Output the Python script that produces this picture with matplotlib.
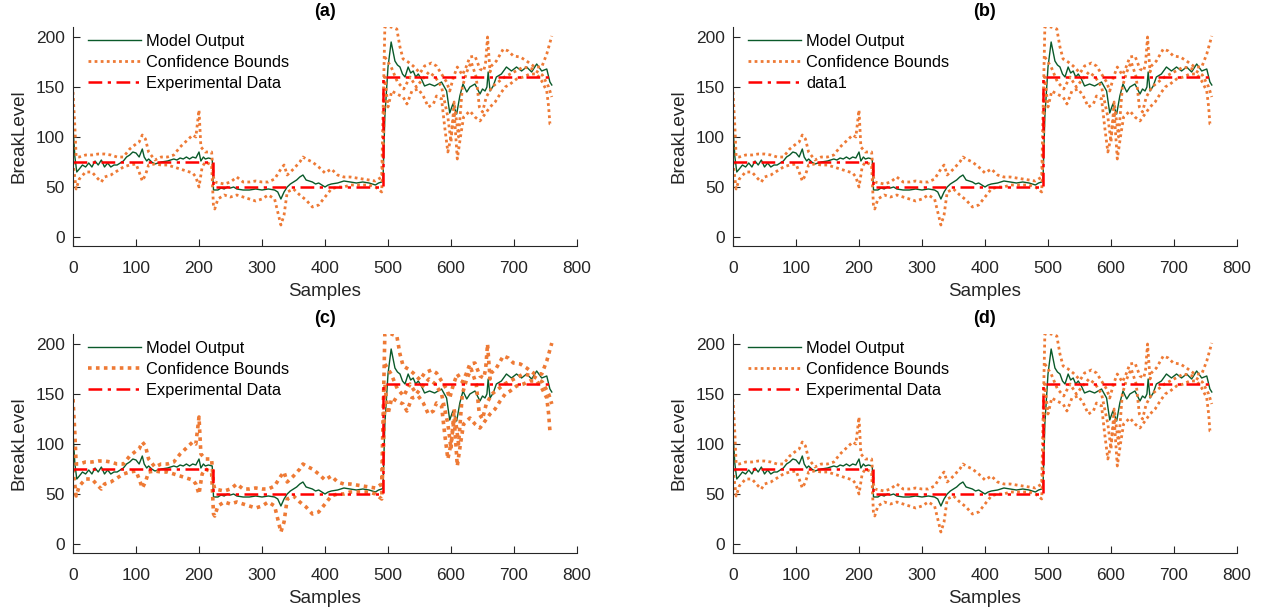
import matplotlib.pyplot as plt

plt.rcParams['font.family'] = ['Liberation Sans', 'DejaVu Sans']

# model output (green)
mod_x = [0, 3, 6, 10, 15, 20, 25, 30, 35, 40, 45, 50, 55, 60, 65, 70, 75, 80, 85, 90, 95, 100,
         105, 110, 113, 117, 120, 125, 130, 140, 150, 160, 165, 170, 175, 180, 185, 190, 195,
         200, 203, 207, 210, 215, 221, 223, 230, 235, 240, 245, 250, 255, 260, 270, 280, 290,
         300, 310, 320, 325, 330, 335, 340, 345, 350, 355, 360, 365, 370, 375, 380, 385, 390,
         395, 400, 405, 410, 420, 430, 440, 450, 460, 470, 480, 485, 490, 492, 495, 500, 505,
         511, 515, 519, 523, 527, 532, 536, 540, 544, 548, 553, 558, 566, 574, 585, 593, 598,
         603, 609, 614, 619, 625, 630, 638, 642, 646, 650, 654, 657, 659, 662, 667, 672, 680,
         688, 696, 704, 712, 720, 728, 736, 744, 752, 757, 760]
mod_y = [110, 80, 65, 68, 72, 70, 74, 70, 76, 72, 77, 70, 74, 70, 72, 72, 74, 76, 80, 82, 85,
         84, 80, 88, 80, 76, 78, 75, 73, 75, 76, 78, 77, 79, 78, 80, 78, 80, 79,
         85, 76, 80, 78, 79, 78, 47, 47, 49, 48, 50, 49, 50, 48, 47, 47, 48,
         47, 48, 47, 45, 38, 45, 50, 53, 55, 57, 60, 62, 57, 56, 55, 53, 54,
         52, 50, 52, 53, 54, 56, 55, 54, 55, 54, 52, 54, 55, 56, 120, 170, 195,
         176, 172, 170, 163, 160, 170, 164, 166, 160, 163, 158, 151, 153, 151, 155, 146, 124,
         133, 123, 141, 153, 145, 150, 153, 148, 143, 148, 146, 150, 165, 146, 151, 160, 163,
         170, 166, 170, 166, 170, 165, 173, 166, 168, 155, 152]

# upper confidence bound
up_x = [0, 3, 5, 10, 20, 30, 40, 50, 60, 70, 80, 90, 100, 105, 110, 115, 120, 130, 140, 150,
        160, 170, 180, 190, 195, 200, 203, 210, 220, 223, 225, 240, 250, 260, 270, 280, 290,
        300, 310, 320, 330, 335, 340, 350, 360, 365, 370, 380, 390, 400, 410, 420, 430, 440,
        450, 460, 470, 480, 490, 493, 495, 505, 514, 519, 524, 532, 540, 551, 558, 569, 577,
        585, 593, 598, 604, 610, 618, 624, 630, 638, 646, 652, 655, 658, 662, 664, 672, 683,
        691, 699, 710, 720, 733, 744, 752, 760]
up_y = [145, 110, 80, 80, 82, 82, 83, 83, 82, 80, 80, 88, 93, 95, 102, 98, 85, 77, 80, 80,
        82, 90, 96, 102, 100, 127, 90, 85, 85, 60, 55, 53, 55, 60, 55, 55, 56,
        55, 55, 58, 68, 72, 62, 68, 75, 80, 78, 75, 70, 64, 68, 62, 60, 60,
        59, 58, 57, 56, 60, 150, 210, 210, 208, 190, 178, 175, 171, 164, 171, 174, 171,
        163, 155, 146, 160, 170, 162, 170, 180, 181, 168, 166, 175, 200, 165, 171, 176, 188,
        186, 181, 180, 176, 170, 170, 183, 201]

# lower confidence bound
lo_x = [0, 5, 10, 20, 30, 40, 45, 50, 60, 70, 80, 90, 100, 105, 110, 115, 120, 130, 140, 150,
        160, 170, 180, 190, 195, 200, 205, 210, 220, 223, 225, 230, 240, 250, 260, 270, 280,
        290, 300, 310, 320, 325, 330, 335, 340, 350, 360, 370, 380, 390, 400, 410, 420, 430,
        440, 450, 460, 470, 480, 490, 493, 495, 500, 506, 514, 524, 530, 538, 548, 556, 564,
        572, 577, 585, 590, 595, 600, 605, 610, 615, 620, 630, 638, 646, 654, 662, 670, 678,
        686, 694, 704, 715, 725, 736, 744, 752, 755, 757, 760]
lo_y = [75, 48, 58, 65, 65, 58, 55, 60, 62, 66, 70, 72, 73, 65, 56, 62, 72, 73, 72, 72,
        70, 68, 66, 64, 60, 50, 70, 75, 72, 30, 28, 38, 42, 40, 42, 40, 38,
        36, 38, 42, 38, 25, 12, 22, 45, 48, 42, 37, 30, 32, 40, 48, 50, 50,
        52, 52, 52, 52, 50, 45, 100, 160, 130, 146, 143, 140, 133, 146, 148, 141, 130,
        133, 141, 138, 110, 85, 100, 125, 78, 100, 120, 126, 120, 116, 123, 130, 135, 143,
        150, 153, 158, 160, 163, 163, 156, 146, 130, 113, 112]

# extra dotted bound curve seen in the high segment
mid_x = [495, 505, 515, 525, 535, 545, 555, 565, 575, 585, 595, 600, 605, 612, 618, 625, 632,
         640, 645, 650, 656, 665, 675, 685, 700, 715, 730, 745, 755, 760]
mid_y = [180, 170, 155, 148, 160, 150, 158, 165, 160, 150, 120, 95, 135, 100, 150, 165, 175,
         160, 130, 125, 140, 150, 155, 160, 165, 170, 168, 162, 150, 140]

# experimental data (step)
exp_x = [0, 222, 222, 492, 492, 760]
exp_y = [75, 75, 50, 50, 160, 160]

panels = ['(a)', '(b)', '(c)', '(d)']
third_label = ['Experimental Data', 'data1', 'Experimental Data', 'Experimental Data']

green = '#0a5a2a'
orange = '#ee7a35'
dark = '#262626'

fig = plt.figure(figsize=(12.65, 6.15), dpi=100)
lefts = [73 / 1265, 733 / 1265, 73 / 1265, 733 / 1265]
bottoms = [1 - 246 / 615, 1 - 246 / 615, 1 - 553 / 615, 1 - 553 / 615]
w = 504 / 1265
h = 219 / 615

for i in range(4):
    ax = fig.add_axes([lefts[i], bottoms[i], w, h])
    lw_b = 2.6 if i == 2 else 2.0
    dots = (0, (1, 1.2))
    ax.plot(mod_x, mod_y, color=green, lw=1.0, label='Model Output')
    ax.plot(up_x, up_y, color=orange, lw=lw_b, linestyle=dots, label='Confidence Bounds')
    ax.plot(lo_x, lo_y, color=orange, lw=lw_b, linestyle=dots)
    ax.plot(mid_x, mid_y, color=orange, lw=lw_b, linestyle=dots)
    ax.plot(exp_x, exp_y, color='red', lw=1.8, linestyle=(0, (5.5, 2.2, 1.3, 2.2)),
            label=third_label[i])
    ax.set_xlim(0, 800)
    ax.set_ylim(-9, 210)
    ax.set_xticks([0, 100, 200, 300, 400, 500, 600, 700, 800])
    ax.set_yticks([0, 50, 100, 150, 200])
    ax.spines['top'].set_visible(False)
    ax.spines['right'].set_visible(False)
    for s in ['left', 'bottom']:
        ax.spines[s].set_color(dark)
        ax.spines[s].set_linewidth(0.8)
    ax.tick_params(direction='in', length=5, width=0.8, colors=dark, labelsize=12.5)
    ax.tick_params(axis='x', pad=11)
    ax.tick_params(axis='y', pad=6)
    ax.set_xlabel('Samples', fontsize=13.5, color=dark, labelpad=5)
    ax.set_ylabel('BreakLevel', fontsize=13.5, color=dark, labelpad=6)
    ax.set_title(panels[i], fontsize=13, fontweight='bold', pad=8)
    ax.legend(loc='upper left', bbox_to_anchor=(0.03, 0.97), frameon=False, fontsize=11.8,
              handlelength=3.2, handletextpad=0.35, labelspacing=0.38, borderpad=0,
              borderaxespad=0)

fig.savefig('out.png', dpi=100)
